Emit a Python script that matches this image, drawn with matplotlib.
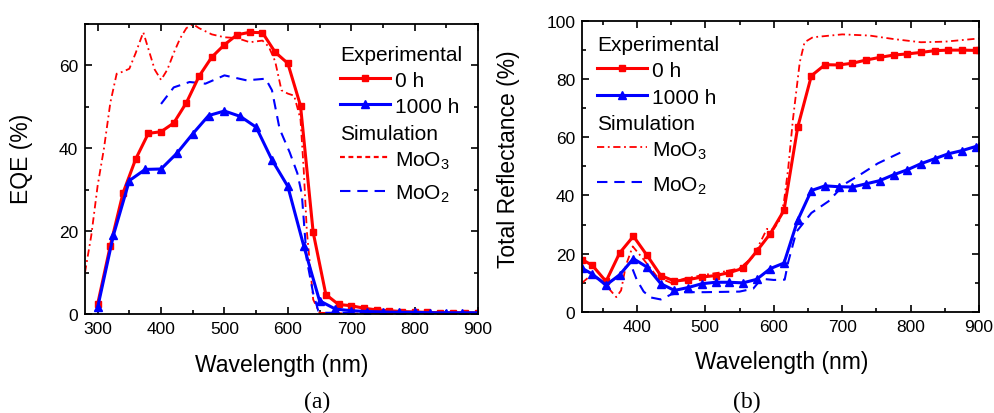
import numpy as np
import matplotlib
matplotlib.use("Agg")
import matplotlib.pyplot as plt
from matplotlib.ticker import MultipleLocator

plt.rcParams['font.family'] = ['Liberation Sans', 'DejaVu Sans']
plt.rcParams['mathtext.fontset'] = 'custom'
plt.rcParams['mathtext.rm'] = 'Liberation Sans'

RED = '#ff0000'
BLUE = '#0000ff'

# ---- (a) EQE ----
eqe_wl_0h = list(range(300, 901, 20))
eqe_0h = [2.4, 16.5, 29.2, 37.4, 43.6, 44.0, 46.1, 51.0, 57.4, 62.0, 65.0, 67.4,
          68.0, 67.9, 63.2, 60.5, 50.3, 19.7, 4.7, 2.3, 2.0, 1.4, 1.0, 0.8,
          0.6, 0.5, 0.4, 0.3, 0.3, 0.3, 0.2]

eqe_wl_1000h = list(range(300, 901, 25))
eqe_1000h = [1.6, 19.1, 32.2, 34.9, 35.0, 38.8, 43.5, 47.9, 49.0, 47.7, 45.1,
             37.2, 30.8, 16.5, 3.2, 1.2, 0.8, 0.6, 0.5, 0.4, 0.4, 0.3, 0.3, 0.3, 0.3]

eqe_wl_moo3 = [280, 290, 300, 310, 320, 330, 340, 350, 360, 372, 380, 390, 400,
               410, 420, 430, 440, 450, 460, 480, 500, 520, 540, 560, 570, 580,
               590, 600, 610, 620, 625, 630, 640, 650, 700, 800, 900]
eqe_moo3 = [10, 19, 31, 40, 51, 58, 58.5, 59.2, 63, 68, 64, 59, 56.5,
            59, 63, 66.5, 69, 70, 69, 67.5, 66.8, 66.6, 65.6, 66, 64.5, 61,
            54, 53.2, 52.7, 47, 35, 20, 3.5, 0.3, 0.1, 0.1, 0.1]

eqe_wl_moo2 = [400, 420, 445, 470, 500, 535, 565, 575, 587, 603, 615, 622, 630,
               640, 648, 660, 700, 800, 900]
eqe_moo2 = [50.7, 54.7, 56, 55.6, 57.6, 56.4, 56.8, 54, 44.7, 39, 34, 29, 13,
            5, 0.8, 0.3, 0.3, 0.3, 0.3]

# ---- (b) total reflectance ----
ref_wl = [320] + list(range(335, 896, 20)) + [900]
ref_0h = [18, 16, 10.5, 20.3, 26, 19.4, 12.5, 10.6, 11.1, 12, 12.5, 13.5, 15,
          20.8, 26.9, 34.9, 63.4, 81.1, 84.9, 84.8, 85.4, 86.5, 87.4, 88.2,
          88.6, 89.1, 89.7, 89.9, 89.9, 89.8, 89.8]
ref_1000h = [15, 13, 9.2, 12.8, 18.3, 15.4, 9.7, 7.4, 8.4, 9.7, 10.2, 10.2, 10,
             11.2, 14.9, 16.8, 31.5, 41.7, 43.3, 43.0, 42.9, 44, 45.1, 47.1,
             48.8, 50.9, 52.6, 54.3, 55.4, 56.8, 57.0]

ref_wl_moo3 = [320, 330, 345, 357, 370, 377, 384, 394, 410, 430, 450, 470, 500,
               520, 550, 570, 590, 600, 610, 615, 621, 628, 638, 645, 657, 700,
               740, 775, 815, 850, 900]
ref_moo3 = [10, 12, 11.4, 8.6, 5.1, 7.4, 16, 22.5, 18, 12, 10, 11.5, 12.8,
            13.5, 15, 19, 28.5, 28.5, 32, 38, 49, 66, 85.7, 92.6, 94.3, 95.3,
            94.9, 93.7, 92.6, 92.8, 93.9]

ref_wl_moo2 = [320, 335, 355, 375, 390, 400, 410, 420, 435, 450, 470, 500, 550,
               570, 582, 600, 616, 621, 633, 655, 680, 704, 728, 752, 792]
ref_moo2 = [15, 13, 9.5, 12.5, 17, 11, 7, 5, 4.3, 6, 6.8, 6.8, 7,
            8, 11.4, 11, 11.1, 17, 27.5, 34, 38, 44, 47.4, 51, 55.5]

sim3_left = dict(color=RED, lw=1.3, dashes=(4, 2, 1, 2))
sim3_right = dict(color=RED, lw=1.3, dashes=(4, 2, 1, 2))
sim3_key_left = dict(color=RED, lw=1.6, dashes=(2.2, 1.6))
sim2 = dict(color=BLUE, lw=1.5, dashes=(5, 3.3))
exp0 = dict(color=RED, lw=2.2, marker='s', markersize=4.8)
exp1 = dict(color=BLUE, lw=2.2, marker='^', markersize=5.5)


def style_axes(ax, xlim, ylim, xticks, yticks):
    ax.set_xlim(*xlim)
    ax.set_ylim(*ylim)
    ax.set_xticks(xticks)
    ax.set_yticks(yticks)
    ax.xaxis.set_minor_locator(MultipleLocator(50))
    ax.yaxis.set_minor_locator(MultipleLocator(10))
    ax.tick_params(which='both', direction='in', top=True, right=True,
                   labelsize=12.5, width=1.2, pad=5)
    ax.tick_params(which='major', length=5)
    ax.tick_params(which='minor', length=3)
    for s in ax.spines.values():
        s.set_linewidth(1.3)


def key(ax, rows, x0, x1, xt, fs=15):
    # hand-made legend: (y centre, label, line style or None for header)
    for y, label, st in rows:
        yb = y - 0.027
        if st is None:
            ax.text(x0, yb, label, transform=ax.transAxes, fontsize=fs, va='baseline')
            continue
        st = dict(st)
        mk = st.pop('marker', None)
        ms = st.pop('markersize', None)
        ax.plot([x0, x1], [y, y], transform=ax.transAxes, clip_on=False, **st)
        if mk:
            ax.plot([(x0 + x1) / 2], [y], transform=ax.transAxes, clip_on=False,
                    marker=mk, markersize=ms, color=st['color'], ls='none')
        ax.text(xt, yb, label, transform=ax.transAxes, fontsize=fs, va='baseline')


fig = plt.figure(figsize=(9.95, 4.14), dpi=100)
ax1 = fig.add_axes([0.0854, 0.2391, 0.395, 0.7005])
ax2 = fig.add_axes([0.585, 0.244, 0.399, 0.7036])

ax1.plot(eqe_wl_moo3, eqe_moo3, **sim3_left)
ax1.plot(eqe_wl_moo2, eqe_moo2, **sim2)
ax1.plot(eqe_wl_0h, eqe_0h, **exp0)
ax1.plot(eqe_wl_1000h, eqe_1000h, **exp1)
style_axes(ax1, (280, 900), (0, 70), range(300, 901, 100), range(0, 61, 20))
ax1.set_xlabel('Wavelength (nm)', fontsize=16.5)
ax1.set_ylabel('EQE (%)', fontsize=16.5)
ax1.xaxis.set_label_coords(0.501, -0.135)
ax1.yaxis.set_label_coords(-0.132, 0.54)
key(ax1, [(0.903, 'Experimental', None),
          (0.814, '0 h', exp0),
          (0.724, '1000 h', exp1),
          (0.631, 'Simulation', None),
          (0.541, 'MoO$_\\mathregular{3}$', sim3_key_left),
          (0.424, 'MoO$_\\mathregular{2}$', sim2)],
    0.649, 0.776, 0.789)

ax2.plot(ref_wl_moo3, ref_moo3, **sim3_right)
ax2.plot(ref_wl_moo2, ref_moo2, **sim2)
ax2.plot(ref_wl, ref_0h, **exp0)
ax2.plot(ref_wl, ref_1000h, **exp1)
style_axes(ax2, (320, 900), (0, 100), range(400, 901, 100), range(0, 101, 20))
ax2.set_xlabel('Wavelength (nm)', fontsize=16.5)
ax2.set_ylabel('Total Reflectance (%)', fontsize=16.5)
ax2.xaxis.set_label_coords(0.504, -0.132)
ax2.yaxis.set_label_coords(-0.156, 0.529)
key(ax2, [(0.927, 'Experimental', None),
          (0.838, '0 h', exp0),
          (0.745, '1000 h', exp1),
          (0.656, 'Simulation', None),
          (0.566, 'MoO$_\\mathregular{3}$', sim3_right),
          (0.446, 'MoO$_\\mathregular{2}$', sim2)],
    0.038, 0.164, 0.176)

fig.text(317 / 995, 1 - 402 / 414, '(a)', family='Liberation Serif', fontsize=17,
         ha='center', va='center')
fig.text(747 / 995, 1 - 402 / 414, '(b)', family='Liberation Serif', fontsize=17,
         ha='center', va='center')

fig.savefig('out.png', dpi=100)
